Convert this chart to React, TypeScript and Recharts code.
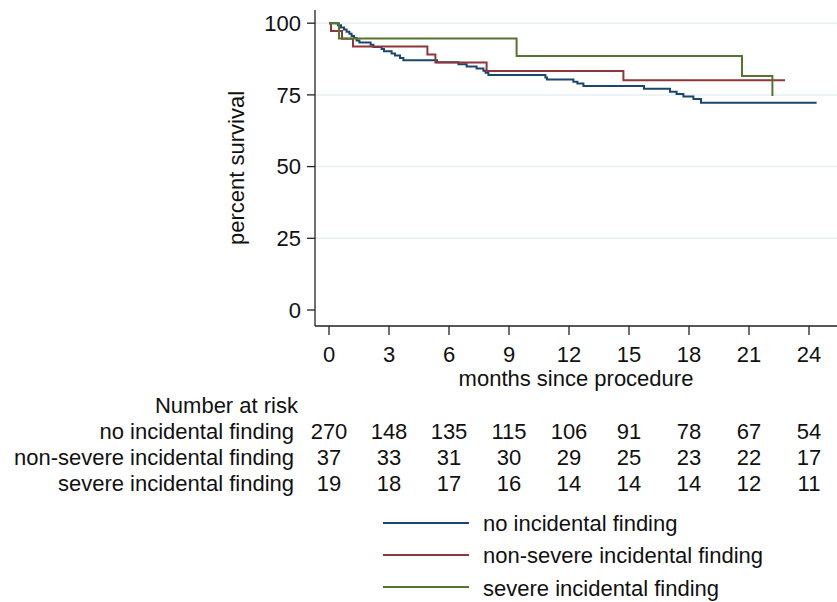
import React from 'react';
import { LineChart, Line, XAxis, YAxis, CartesianGrid, Legend } from 'recharts';

const FONT = '"Liberation Sans", Arial, Helvetica, sans-serif';
const INK = '#111';

const monthTicks = [0, 3, 6, 9, 12, 15, 18, 21, 24];
const survivalTicks = [0, 25, 50, 75, 100];

// Kaplan-Meier steps: months since procedure / percent surviving
const noFindingMonths = [
  0, 0.45, 0.6, 0.75, 0.88, 1.02, 1.13, 1.25, 1.38, 1.52, 2.08, 2.22, 2.63, 2.75, 3.13, 3.3, 3.55, 3.72,
  5.4, 6.47, 6.88, 7.38, 7.72, 7.83, 7.97, 10.82, 10.9, 12.22, 12.42, 12.72, 15.75, 17.05, 17.38, 17.72,
  18.22, 18.6, 24.38,
];
const noFindingSurvival = [
  100, 99.3, 98.5, 97.8, 97.0, 96.3, 95.5, 94.8, 94.0, 93.3, 92.5, 91.7, 91.0, 90.2, 89.4, 88.7, 87.9, 87.1,
  86.4, 85.7, 84.9, 84.2, 83.4, 82.7, 81.9, 81.1, 80.4, 79.6, 79.0, 78.1, 77.1, 76.1, 75.3, 74.4,
  73.6, 72.3, 72.3,
];

const nonSevereMonths = [0, 0.1, 0.65, 1.2, 4.92, 5.32, 7.88, 14.72, 22.8];
const nonSevereSurvival = [100, 97.3, 94.6, 91.9, 89.1, 86.3, 83.3, 80.1, 80.1];

const severeMonths = [0, 0.5, 9.38, 20.65, 22.17];
const severeSurvival = [100, 94.7, 88.6, 81.6, 74.6];

// number at risk, one value per month tick
const noFindingAtRisk = [270, 148, 135, 115, 106, 91, 78, 67, 54];
const nonSevereAtRisk = [37, 33, 31, 30, 29, 25, 23, 22, 17];
const severeAtRisk = [19, 18, 17, 16, 14, 14, 14, 12, 11];

const groupNames = ['no incidental finding', 'non-severe incidental finding', 'severe incidental finding'];
const groupColors = ['#1a476f', '#90353b', '#55752f'];

const toPoints = (months: number[], survival: number[]) =>
  months.map((m, i) => ({ month: m, survival: survival[i] }));

const series = [
  toPoints(noFindingMonths, noFindingSurvival),
  toPoints(nonSevereMonths, nonSevereSurvival),
  toPoints(severeMonths, severeSurvival),
];
const atRisk = [noFindingAtRisk, nonSevereAtRisk, severeAtRisk];

const X_DOMAIN: [number, number] = [-0.7, 25.4];
const textStyle = { fontSize: 22, fill: INK, fontFamily: FONT };
const axisStroke = { stroke: '#222', strokeWidth: 1.3 };

// month tick label, with the number-at-risk column for that month underneath
const MonthTick = (props: any) => {
  const { x, y, payload } = props;
  const i = monthTicks.indexOf(payload.value);
  const rowBaselines = [92.5, 118.5, 144.5];
  return (
    <g>
      <text x={x} y={y + 15.6} textAnchor="middle" {...textStyle}>
        {payload.value}
      </text>
      {atRisk.map((counts, g) => (
        <text key={g} x={x} y={y + rowBaselines[g]} textAnchor="middle" {...textStyle}>
          {counts[i]}
        </text>
      ))}
    </g>
  );
};

const renderLegend = (props: any) => {
  const payload = props.payload || [];
  return (
    <div style={{ fontFamily: FONT, fontSize: 22, color: INK }}>
      {payload.map((entry: any) => (
        <div key={entry.value} style={{ display: 'flex', alignItems: 'center', height: 32.3 }}>
          <svg width={86} height={4} style={{ display: 'block' }}>
            <line x1={0} x2={86} y1={2} y2={2} stroke={entry.color} strokeWidth={2} />
          </svg>
          <span style={{ marginLeft: 14, lineHeight: '32px', paddingTop: 3, whiteSpace: 'nowrap' }}>
            {entry.value}
          </span>
        </div>
      ))}
    </div>
  );
};

const yLabel = (props: any) => {
  const vb = props.viewBox || {};
  const cy = (vb.y ?? 10) + (vb.height ?? 316) / 2;
  return (
    <text
      x={236}
      y={cy}
      transform={`rotate(-90 236 ${cy})`}
      textAnchor="middle"
      dominantBaseline="central"
      fontSize={22}
      fill={INK}
      fontFamily={FONT}
    >
      percent survival
    </text>
  );
};

const App: React.FC = () => {
  return (
    <div style={{ position: 'absolute', left: 0, top: 0 }}>
      <LineChart width={837} height={602} margin={{ top: 10, right: 0, bottom: 106.3, left: 0 }}>
        <CartesianGrid vertical={false} horizontalValues={[25, 50, 75, 100]} stroke="#e6eff1" strokeWidth={1.5} />
        <XAxis
          xAxisId={0}
          type="number"
          dataKey="month"
          domain={X_DOMAIN}
          allowDataOverflow
          ticks={monthTicks}
          interval={0}
          height={65.7}
          tickSize={9}
          tickMargin={11}
          axisLine={axisStroke}
          tickLine={axisStroke}
          tick={<MonthTick />}
          label={{ value: 'months since procedure', position: 'insideBottom', offset: 5.7, ...textStyle }}
        />
        <XAxis
          xAxisId="header"
          type="number"
          domain={X_DOMAIN}
          allowDataOverflow
          height={26}
          axisLine={false}
          tickLine={false}
          tick={false}
          label={{ value: 'Number at risk', position: 'left', offset: 17, ...textStyle }}
        />
        {groupNames.map((name, g) => (
          <XAxis
            key={name}
            xAxisId={`risk${g}`}
            type="number"
            domain={X_DOMAIN}
            allowDataOverflow
            height={26}
            axisLine={false}
            tickLine={false}
            tick={false}
            label={{ value: name, position: 'left', offset: 21, ...textStyle }}
          />
        ))}
        <YAxis
          type="number"
          domain={[-5.58, 104.6]}
          allowDataOverflow
          ticks={survivalTicks}
          interval={0}
          width={315}
          tickSize={8}
          tickMargin={6}
          axisLine={axisStroke}
          tickLine={axisStroke}
          tick={textStyle}
          label={yLabel}
        />
        {series.map((points, g) => (
          <Line
            key={groupNames[g]}
            xAxisId={0}
            data={points}
            dataKey="survival"
            name={groupNames[g]}
            type="stepAfter"
            stroke={groupColors[g]}
            strokeWidth={2}
            dot={false}
            activeDot={false}
            isAnimationActive={false}
          />
        ))}
        <Legend
          layout="vertical"
          align="center"
          verticalAlign="middle"
          wrapperStyle={{ left: 383, top: 506.5, width: 'auto' }}
          content={renderLegend}
        />
      </LineChart>
    </div>
  );
};

export default App;
